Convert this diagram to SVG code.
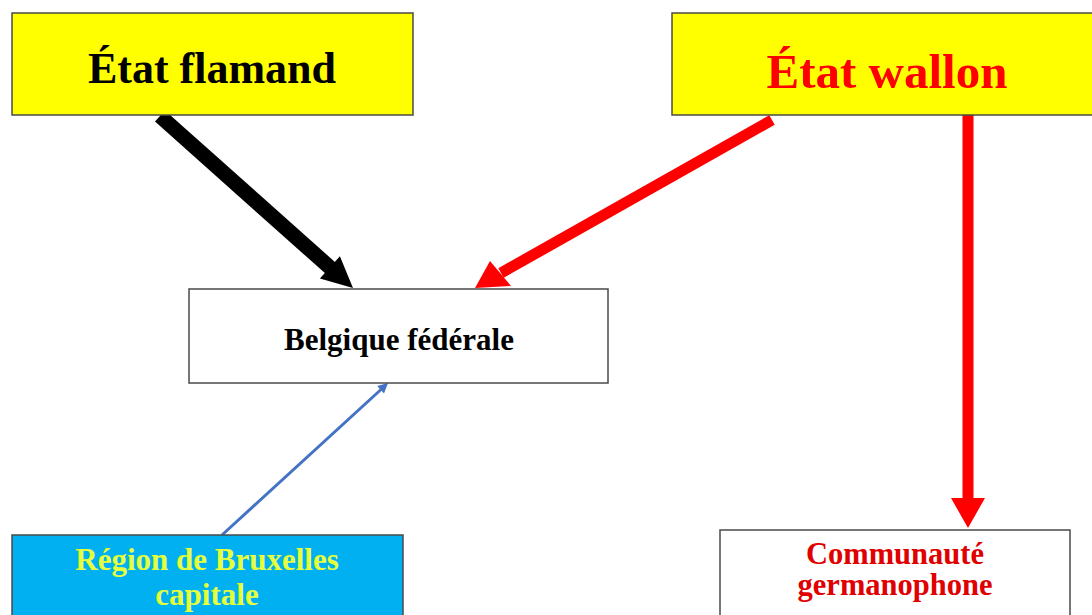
<svg xmlns="http://www.w3.org/2000/svg" width="1092" height="615" viewBox="0 0 1092 615">
<style>
.box{stroke:#4a4a4a;stroke-width:1.5}
.t{font-family:"Liberation Serif","Times New Roman",serif;font-weight:bold;text-anchor:middle}
</style>
<rect width="1092" height="615" fill="#ffffff"/>
<g id="connectors">
<line x1="160" y1="116" x2="331" y2="268.5" stroke="#000" stroke-width="15"/>
<polygon points="353,288 319.9,278.6 339.9,256.2" fill="#000"/>
<line x1="772" y1="120" x2="501" y2="273" stroke="#ff0000" stroke-width="11"/>
<polygon points="475,288 490,261 511,286" fill="#ff0000"/>
<line x1="968" y1="115" x2="968" y2="500" stroke="#ff0000" stroke-width="11"/>
<polygon points="951,498 985,498 968,528" fill="#ff0000"/>
<line x1="222" y1="535" x2="381" y2="389.5" stroke="#4472c4" stroke-width="3"/>
<polygon points="388,383 384,393.5 377.2,386.1" fill="#4472c4"/>
</g>
<g id="etat-flamand">
<rect class="box" x="12" y="13" width="401" height="102" fill="#ffff00"/>
<text class="t" x="212" y="83" font-size="44" fill="#000">État flamand</text>
</g>
<g id="etat-wallon">
<rect class="box" x="672" y="13" width="430" height="102" fill="#ffff00"/>
<text class="t" x="887" y="88" font-size="49" fill="#ff0000">État wallon</text>
</g>
<g id="belgique">
<rect class="box" x="189" y="289" width="419" height="94" fill="#ffffff"/>
<text class="t" x="399" y="350" font-size="31" fill="#000">Belgique fédérale</text>
</g>
<g id="bruxelles">
<rect class="box" x="12" y="535" width="391" height="90" fill="#00b0f0"/>
<text class="t" x="207" y="570" font-size="31" fill="#e6ff3c">Région de Bruxelles</text>
<text class="t" x="207" y="605" font-size="31" fill="#e6ff3c">capitale</text>
</g>
<g id="communaute">
<rect class="box" x="720" y="530" width="350" height="95" fill="#ffffff"/>
<text class="t" x="895" y="564" font-size="30.5" fill="#e00000">Communauté</text>
<text class="t" x="895" y="595" font-size="30.5" fill="#e00000">germanophone</text>
</g>
</svg>
